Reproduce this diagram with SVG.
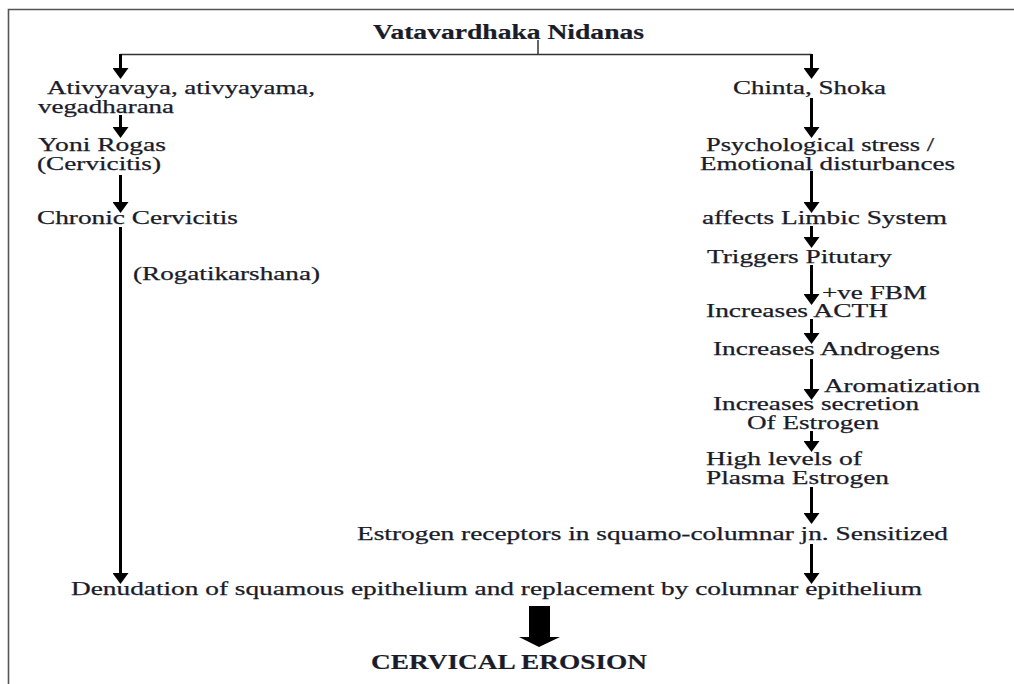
<svg xmlns="http://www.w3.org/2000/svg" width="1014" height="684" viewBox="0 0 1014 684">
<style>
text{font-family:"Liberation Serif","Times New Roman",serif;font-size:19px;fill:#1a1c2a;stroke:#1a1c2a;stroke-width:0.25}
.b{font-weight:bold;font-size:20px;stroke-width:0.2}
.arr{stroke:#000;stroke-width:3;fill:none;marker-end:url(#ah)}
.thin{stroke:#333;stroke-width:1.5;fill:none}
</style>
<defs>
<marker id="ah" markerUnits="userSpaceOnUse" markerWidth="12" markerHeight="16" refX="2" refY="8" orient="auto" viewBox="0 0 12 16">
<path d="M0,0 L11,8 L0,16 z" fill="#000"/>
</marker>
</defs>
<rect width="1014" height="684" fill="#fff"/>
<path d="M8.5,684 L8.5,9.5 L1014,9.5" stroke="#555" stroke-width="1.6" fill="none"/>

<g id="connectors">
<path class="thin" d="M538,40 L538,54.5 M120.5,54.5 L811.5,54.5"/>
<line class="arr" x1="120.5" y1="54" x2="120.5" y2="70"/>
<line class="arr" x1="120.5" y1="115" x2="120.5" y2="129"/>
<line class="arr" x1="120.5" y1="175" x2="120.5" y2="204"/>
<line class="arr" x1="120.5" y1="227" x2="120.5" y2="575"/>
<line class="arr" x1="811.5" y1="54" x2="811.5" y2="70"/>
<line class="arr" x1="811.5" y1="98" x2="811.5" y2="129"/>
<line class="arr" x1="811.5" y1="171" x2="811.5" y2="204"/>
<line class="arr" x1="811.5" y1="226" x2="811.5" y2="239"/>
<line class="arr" x1="811.5" y1="265" x2="811.5" y2="296"/>
<line class="arr" x1="811.5" y1="319" x2="811.5" y2="335"/>
<line class="arr" x1="811.5" y1="359" x2="811.5" y2="391"/>
<line class="arr" x1="811.5" y1="431" x2="811.5" y2="443"/>
<line class="arr" x1="811.5" y1="487" x2="811.5" y2="515"/>
<line class="arr" x1="811.5" y1="544" x2="811.5" y2="575"/>
<polygon points="529,606 550,606 550,637 560,637 539,647 519,637 529,637" fill="#000"/>
</g>

<g id="title"><text class="b" x="373" y="39" textLength="271" lengthAdjust="spacingAndGlyphs">Vatavardhaka Nidanas</text></g>
<g id="n-ativyavaya">
<text x="47" y="94" textLength="268" lengthAdjust="spacingAndGlyphs">Ativyavaya, ativyayama,</text>
<text x="38" y="113" textLength="136" lengthAdjust="spacingAndGlyphs">vegadharana</text>
</g>
<g id="n-yoni">
<text x="38" y="151" textLength="128" lengthAdjust="spacingAndGlyphs">Yoni Rogas</text>
<text x="37" y="170" textLength="124" lengthAdjust="spacingAndGlyphs">(Cervicitis)</text>
</g>
<g id="n-chronic"><text x="37" y="224" textLength="201" lengthAdjust="spacingAndGlyphs">Chronic Cervicitis</text></g>
<g id="n-rogati"><text x="133" y="280" textLength="187" lengthAdjust="spacingAndGlyphs">(Rogatikarshana)</text></g>

<g id="n-chinta"><text x="733" y="94" textLength="153" lengthAdjust="spacingAndGlyphs">Chinta, Shoka</text></g>
<g id="n-stress">
<text x="706" y="150.5" textLength="228" lengthAdjust="spacingAndGlyphs">Psychological stress /</text>
<text x="700" y="169.5" textLength="255" lengthAdjust="spacingAndGlyphs">Emotional disturbances</text>
</g>
<g id="n-limbic"><text x="702" y="224" textLength="245" lengthAdjust="spacingAndGlyphs">affects Limbic System</text></g>
<g id="n-pituitary"><text x="707" y="263" textLength="185" lengthAdjust="spacingAndGlyphs">Triggers Pitutary</text></g>
<g id="l-fbm"><text x="822" y="299" textLength="105" lengthAdjust="spacingAndGlyphs">+ve FBM</text></g>
<g id="n-acth"><text x="706" y="317" textLength="182" lengthAdjust="spacingAndGlyphs">Increases ACTH</text></g>
<g id="n-androgens"><text x="713" y="355" textLength="227" lengthAdjust="spacingAndGlyphs">Increases Androgens</text></g>
<g id="l-arom"><text x="824" y="392" textLength="156" lengthAdjust="spacingAndGlyphs">Aromatization</text></g>
<g id="n-secretion">
<text x="713" y="410" textLength="206" lengthAdjust="spacingAndGlyphs">Increases secretion</text>
<text x="747" y="429" textLength="132" lengthAdjust="spacingAndGlyphs">Of Estrogen</text>
</g>
<g id="n-plasma">
<text x="706" y="465" textLength="156" lengthAdjust="spacingAndGlyphs">High levels of</text>
<text x="706" y="484" textLength="183" lengthAdjust="spacingAndGlyphs">Plasma Estrogen</text>
</g>
<g id="n-receptors"><text x="357" y="540" textLength="591" lengthAdjust="spacingAndGlyphs">Estrogen receptors in squamo-columnar jn. Sensitized</text></g>
<g id="n-denudation"><text x="71" y="595" textLength="851" lengthAdjust="spacingAndGlyphs">Denudation of squamous epithelium and replacement by columnar epithelium</text></g>
<g id="n-erosion"><text class="b" x="371" y="669" textLength="276" lengthAdjust="spacingAndGlyphs">CERVICAL EROSION</text></g>
</svg>
